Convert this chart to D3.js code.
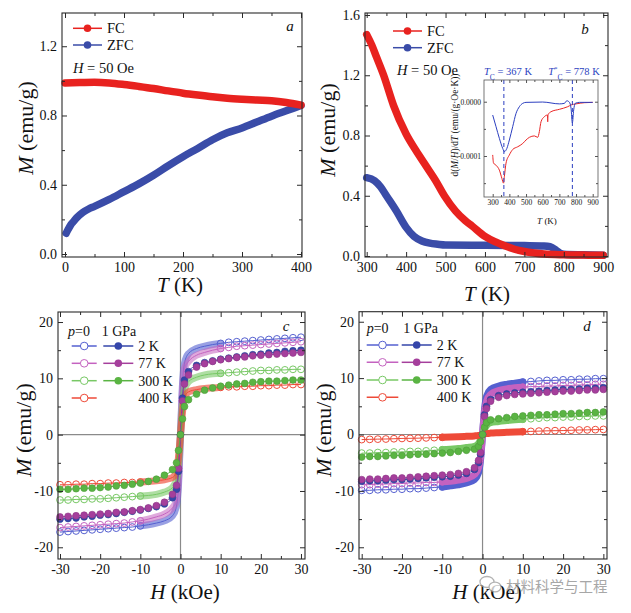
<!DOCTYPE html>
<html><head><meta charset="utf-8">
<script src="https://cdn.jsdelivr.net/npm/d3@7/dist/d3.min.js"></script>
<style>body{margin:0;background:#fff}svg{display:block}</style>
</head><body>
<svg id="fig" width="631" height="613"></svg>
<script>
// ---------------- DATA ----------------
// Panel a (M vs T, H = 50 Oe)
const aT_FC  = [0, 25, 50, 75, 100, 125, 150, 175, 200, 225, 250, 275, 300, 325, 350, 375, 400];
const aM_FC  = [0.988, 0.99, 0.992, 0.988, 0.979, 0.968, 0.956, 0.942, 0.929, 0.918, 0.908, 0.9, 0.894, 0.889, 0.885, 0.875, 0.86];
const aT_ZFC = [2, 5, 10, 15, 20, 30, 40, 50, 75, 100, 125, 150, 175, 200, 225, 250, 275, 300, 325, 350, 375, 400];
const aM_ZFC = [0.12, 0.14, 0.17, 0.19, 0.21, 0.24, 0.26, 0.275, 0.315, 0.36, 0.405, 0.455, 0.51, 0.562, 0.61, 0.66, 0.70, 0.728, 0.762, 0.796, 0.827, 0.858];
// Panel b (high temperature)
const bT_FC  = [300, 313, 325, 343, 368, 400, 425, 450, 475, 497, 525, 550, 567, 600, 625, 650, 675, 700, 725, 750, 800, 850, 900];
const bM_FC  = [1.47, 1.40, 1.32, 1.20, 1.00, 0.81, 0.70, 0.60, 0.50, 0.40, 0.30, 0.235, 0.20, 0.13, 0.095, 0.068, 0.045, 0.03, 0.02, 0.013, 0.008, 0.006, 0.005];
const bT_ZFC = [300, 320, 335, 350, 375, 400, 420, 440, 460, 480, 500, 600, 700, 750, 765, 780, 790, 800, 850, 900];
const bM_ZFC = [0.52, 0.50, 0.46, 0.40, 0.30, 0.19, 0.13, 0.10, 0.085, 0.078, 0.073, 0.071, 0.069, 0.067, 0.062, 0.04, 0.02, 0.012, 0.008, 0.005];
// Panel b inset: d(M/H)/dT
const iT_ZFC = [300, 320, 340, 360, 370, 385, 400, 420, 440, 460, 480, 500, 600, 700, 730, 745, 760, 770, 778, 786, 795, 820, 900];
const iD_ZFC = [-2.45e-5, -4.6e-5, -6.75e-5, -8.6e-5, -9.2e-5, -8.6e-5, -7.05e-5, -4.6e-5, -2.15e-5, -9.2e-6, -3e-6, -1.2e-6, -6e-7, -4e-6, -3e-6, 1.8e-6, -1e-6, -1.2e-5, -3.9e-5, -1.5e-5, -3e-6, -1.2e-6, -1.2e-6];
const iT_FC  = [300, 305, 320, 340, 355, 365, 370, 380, 400, 420, 450, 480, 500, 520, 550, 570, 580, 590, 610, 628, 630, 632, 650, 700, 750, 770, 800, 850, 900];
const iD_FC  = [-9.8e-5, -1.13e-4, -1.17e-4, -1.26e-4, -1.41e-4, -1.5e-4, -1.38e-4, -1.13e-4, -9.8e-5, -8.8e-5, -8.3e-5, -7.7e-5, -7.05e-5, -6.56e-5, -6.3e-5, -6.56e-5, -5.5e-5, -3.68e-5, -2.76e-5, -2.45e-5, -3.7e-5, -2.4e-5, -1.84e-5, -1.4e-5, -9.2e-6, -6e-6, -4e-6, -1.8e-6, -1.2e-6];
const inTc = [367, 778];

// Panels c and d (M vs H)
const hGrid = [-30,-28,-26,-24,-22,-20,-18,-16,-14,-12,-10,-8,-6,-4,-2,-1,-0.5,0,0.5,1,2,4,6,8,10,12,14,16,18,20,22,24,26,28,30];
const c2K_p0   = [-17.3,-17.2,-17.1,-17.0,-16.9,-16.8,-16.7,-16.6,-16.5,-16.4,-16.2,-16.0,-15.7,-15.3,-14.4,-12.7,-9.0,0,9.0,12.7,14.4,15.3,15.7,16.0,16.2,16.4,16.5,16.6,16.7,16.8,16.9,17.0,17.1,17.2,17.3];
const c77K_p0  = [-16.5,-16.4,-16.3,-16.2,-16.1,-16.0,-15.9,-15.8,-15.7,-15.5,-15.3,-15.0,-14.6,-14.1,-13.0,-11.8,-8.0,0,8.0,11.8,13.0,14.1,14.6,15.0,15.3,15.5,15.7,15.8,15.9,16.0,16.1,16.2,16.3,16.4,16.5];
const c300K_p0 = [-11.6,-11.6,-11.5,-11.5,-11.4,-11.4,-11.3,-11.2,-11.1,-11.0,-10.9,-10.8,-10.6,-10.2,-9.4,-8.0,-5.5,0,5.5,8.0,9.4,10.2,10.6,10.8,10.9,11.0,11.1,11.2,11.3,11.4,11.4,11.5,11.5,11.6,11.6];
const c400K_p0 = [-8.9,-8.9,-8.8,-8.8,-8.7,-8.7,-8.6,-8.6,-8.5,-8.5,-8.4,-8.3,-8.2,-8.0,-7.6,-6.7,-4.0,0,4.0,6.7,7.6,8.0,8.2,8.3,8.4,8.5,8.5,8.6,8.6,8.7,8.7,8.8,8.8,8.9,8.9];
const c2K_1G   = [-15.0,-14.9,-14.8,-14.6,-14.5,-14.3,-14.2,-14.0,-13.8,-13.6,-13.4,-13.1,-12.8,-12.3,-11.2,-9.7,-6.5,0,6.5,9.7,11.2,12.3,12.8,13.1,13.4,13.6,13.8,14.0,14.2,14.3,14.5,14.6,14.8,14.9,15.0];
const c77K_1G  = [-14.6,-14.5,-14.4,-14.3,-14.2,-14.1,-14.0,-13.8,-13.7,-13.5,-13.3,-13.0,-12.6,-12.0,-10.6,-9.0,-6.0,0,6.0,9.0,10.6,12.0,12.6,13.0,13.3,13.5,13.7,13.8,14.0,14.1,14.2,14.3,14.4,14.5,14.6];
const c300K_1G = [-9.7,-9.7,-9.6,-9.5,-9.5,-9.4,-9.3,-9.1,-9.0,-8.8,-8.6,-8.3,-7.9,-7.2,-6.2,-5.0,-2.8,0,2.8,5.0,6.2,7.2,7.9,8.3,8.6,8.8,9.0,9.1,9.3,9.4,9.5,9.5,9.6,9.7,9.7];
const d2K_p0   = [-9.9,-9.9,-9.8,-9.8,-9.7,-9.7,-9.6,-9.6,-9.5,-9.4,-9.3,-9.1,-8.9,-8.6,-8.0,-6.8,-4.5,0,4.5,6.8,8.0,8.6,8.9,9.1,9.3,9.4,9.5,9.6,9.6,9.7,9.7,9.8,9.8,9.9,9.9];
const d77K_p0  = [-8.9,-8.9,-8.8,-8.8,-8.7,-8.7,-8.6,-8.6,-8.5,-8.5,-8.4,-8.3,-8.1,-7.8,-7.1,-5.9,-4.0,0,4.0,5.9,7.1,7.8,8.1,8.3,8.4,8.5,8.5,8.6,8.6,8.7,8.7,8.8,8.8,8.9,8.9];
const d300K_p0 = [-3.3,-3.3,-3.2,-3.2,-3.1,-3.1,-3.0,-3.0,-2.9,-2.8,-2.7,-2.6,-2.5,-2.3,-2.1,-1.6,-1.0,0,1.0,1.6,2.1,2.3,2.5,2.6,2.7,2.8,2.9,3.0,3.0,3.1,3.1,3.2,3.2,3.3,3.3];
const d400K_p0 = [-0.9,-0.86,-0.82,-0.8,-0.75,-0.7,-0.68,-0.65,-0.6,-0.55,-0.5,-0.44,-0.38,-0.32,-0.25,-0.18,-0.12,0,0.12,0.18,0.25,0.32,0.38,0.44,0.5,0.55,0.6,0.65,0.68,0.7,0.75,0.8,0.82,0.86,0.9];
const d2K_1G   = [-8.3,-8.2,-8.2,-8.1,-8.0,-8.0,-7.9,-7.8,-7.7,-7.6,-7.5,-7.4,-7.2,-6.9,-6.2,-5.0,-3.5,0,3.5,5.0,6.2,6.9,7.2,7.4,7.5,7.6,7.7,7.8,7.9,8.0,8.0,8.1,8.2,8.2,8.3];
const d77K_1G  = [-8.0,-7.9,-7.9,-7.8,-7.7,-7.7,-7.6,-7.5,-7.4,-7.3,-7.2,-7.1,-6.9,-6.6,-5.9,-4.6,-3.2,0,3.2,4.6,5.9,6.6,6.9,7.1,7.2,7.3,7.4,7.5,7.6,7.7,7.7,7.8,7.9,7.9,8.0];
const d300K_1G = [-4.0,-3.9,-3.9,-3.8,-3.7,-3.7,-3.6,-3.5,-3.5,-3.4,-3.3,-3.2,-3.0,-2.8,-2.6,-2.1,-1.3,0,1.3,2.1,2.6,2.8,3.0,3.2,3.3,3.4,3.5,3.5,3.6,3.7,3.7,3.8,3.9,3.9,4.0];

const legendTemps = ["2 K", "77 K", "300 K", "400 K"];

// ---------------- STYLE ----------------
const FONT = '"Liberation Serif","Times New Roman",Tinos,serif';
const C = {
  red: "#e8221f", blueAB: "#3a4ca8",
  blue: "#3546aa", blueO: "#5560d0",
  mag: "#a53f9c", magO: "#c462c0",
  grn: "#5ab443", grnO: "#78c865",
  redO: "#ee4a38",
  frame: "#2a2a2a", zero: "#8a8a8a", inBlue: "#2c3fc0", inRed: "#ea2525"
};
const svg = d3.select("#fig");

function axes(g, x, y, o) {
  const [xl, xr] = x.range(), [yb, yt] = y.range();
  const none = () => "";
  const mk = (gen, vals, size, fmt, tr, pad) => {
    const a = g.append("g").attr("transform", tr)
      .call(gen.tickValues(vals).tickSize(size).tickSizeOuter(0).tickPadding(pad).tickFormat(fmt || none));
    a.attr("font-family", FONT);
    a.select(".domain").remove();
    a.selectAll("line").attr("stroke", o.color || C.frame).attr("stroke-width", 1);
    a.selectAll("text").attr("font-family", FONT).attr("font-size", o.fs).attr("fill", "#111");
    return a;
  };
  const T = o.T || 5, t = o.t || 3, p = o.pad || 5;
  mk(d3.axisBottom(x), o.xt, -T, o.xf, `translate(0,${yb})`, p);
  mk(d3.axisBottom(x), o.xm, -t, null, `translate(0,${yb})`, p);
  mk(d3.axisTop(x), o.xt, -T, null, `translate(0,${yt})`, p);
  mk(d3.axisTop(x), o.xm, -t, null, `translate(0,${yt})`, p);
  mk(d3.axisLeft(y), o.yt, -T, o.yf, `translate(${xl},0)`, p);
  mk(d3.axisLeft(y), o.ym, -t, null, `translate(${xl},0)`, p);
  mk(d3.axisRight(y), o.yt, -T, null, `translate(${xr},0)`, p);
  mk(d3.axisRight(y), o.ym, -t, null, `translate(${xr},0)`, p);
  g.append("rect").attr("x", xl).attr("y", yt).attr("width", xr - xl).attr("height", yb - yt)
    .attr("fill", "none").attr("stroke", o.color || C.frame).attr("stroke-width", o.sw || 1.1);
}
function range(a, b, s) { const r = []; for (let v = a; v <= b + 1e-9; v += s) r.push(+v.toFixed(6)); return r; }

function txt(g, x, y, parts, o = {}) {
  const t = g.append("text").attr("x", x).attr("y", y).attr("font-family", FONT)
    .attr("font-size", o.fs || 14).attr("fill", o.fill || "#111").attr("text-anchor", o.anchor || "start");
  if (o.rot) t.attr("transform", `rotate(${o.rot},${x},${y})`);
  parts.forEach(p => {
    if (typeof p === "string") t.append("tspan").text(p);
    else {
      const s = t.append("tspan").text(p.t);
      if (p.i) s.attr("font-style", "italic");
      if (p.sub) s.attr("baseline-shift", "sub").attr("font-size", p.sub);
      if (p.sup) s.attr("baseline-shift", "super").attr("font-size", p.sup);
    }
  });
  return t;
}

// ---------------- PANEL a ----------------
{
  const g = svg.append("g");
  const x = d3.scaleLinear().domain([-5.1, 401.7]).range([62, 302]);
  const y = d3.scaleLinear().domain([-0.0173, 1.392]).range([257, 13]);
  const line = d3.line().x(d => x(d[0])).y(d => y(d[1])).curve(d3.curveMonotoneX);
  g.append("path").attr("d", line(aT_ZFC.map((t, i) => [t, aM_ZFC[i]])))
    .attr("fill", "none").attr("stroke", C.blueAB).attr("stroke-width", 7.5).attr("stroke-linecap", "round").attr("stroke-linejoin", "round");
  g.append("path").attr("d", line(aT_FC.map((t, i) => [t, aM_FC[i]])))
    .attr("fill", "none").attr("stroke", C.red).attr("stroke-width", 7.5).attr("stroke-linecap", "round").attr("stroke-linejoin", "round");
  axes(g, x, y, { xt: range(0, 400, 100), xm: range(50, 350, 100), yt: range(0, 1.2, 0.4), ym: [0.2, 0.6, 1.0],
    xf: d => String(d), yf: d => d.toFixed(1), fs: 14 });
  [["FC", C.red, 28.3], ["ZFC", C.blueAB, 45]].forEach(([lab, col, yy]) => {
    g.append("line").attr("x1", 73).attr("x2", 102).attr("y1", yy).attr("y2", yy).attr("stroke", col).attr("stroke-width", 1.5);
    g.append("circle").attr("cx", 87.5).attr("cy", yy).attr("r", 3.8).attr("fill", col);
    txt(g, 107, yy + 5, [lab], { fs: 14.5 });
  });
  txt(g, 73, 73, [{ t: "H", i: 1 }, " = 50 Oe"], { fs: 14.5 });
  txt(g, 290, 31, [{ t: "a", i: 1 }], { fs: 15, anchor: "middle" });
  txt(g, 180, 292, [{ t: "T", i: 1 }, " (K)"], { fs: 21, anchor: "middle" });
  txt(g, 33, 128, [{ t: "M", i: 1 }, " (emu/g)"], { fs: 22, anchor: "middle", rot: -90 });
}

// ---------------- PANEL b ----------------
{
  const g = svg.append("g");
  const x = d3.scaleLinear().domain([295.7, 912.1]).range([365, 608]);
  const y = d3.scaleLinear().domain([-0.0066, 1.6133]).range([257, 13]);
  const line = d3.line().x(d => x(d[0])).y(d => y(d[1])).curve(d3.curveMonotoneX);
  g.append("path").attr("d", line(bT_ZFC.map((t, i) => [t, bM_ZFC[i]])))
    .attr("fill", "none").attr("stroke", C.blueAB).attr("stroke-width", 7.5).attr("stroke-linecap", "round").attr("stroke-linejoin", "round");
  g.append("path").attr("d", line(bT_FC.map((t, i) => [t, bM_FC[i]])))
    .attr("fill", "none").attr("stroke", C.red).attr("stroke-width", 7.5).attr("stroke-linecap", "round").attr("stroke-linejoin", "round");
  axes(g, x, y, { xt: range(300, 900, 100), xm: range(350, 850, 100), yt: range(0, 1.6, 0.4), ym: [0.2, 0.6, 1.0, 1.4],
    xf: d => String(d), yf: d => d.toFixed(1), fs: 14 });
  [["FC", C.red, 31], ["ZFC", C.blueAB, 47.7]].forEach(([lab, col, yy]) => {
    g.append("line").attr("x1", 393).attr("x2", 422).attr("y1", yy).attr("y2", yy).attr("stroke", col).attr("stroke-width", 1.5);
    g.append("circle").attr("cx", 407.5).attr("cy", yy).attr("r", 3.8).attr("fill", col);
    txt(g, 427, yy + 5, [lab], { fs: 14.5 });
  });
  txt(g, 397, 75, [{ t: "H", i: 1 }, " = 50 Oe"], { fs: 14.5 });
  txt(g, 585, 34, [{ t: "b", i: 1 }], { fs: 15, anchor: "middle" });
  txt(g, 487, 301, [{ t: "T", i: 1 }, " (K)"], { fs: 21, anchor: "middle" });
  txt(g, 335, 130, [{ t: "M", i: 1 }, " (emu/g)"], { fs: 22, anchor: "middle", rot: -90 });

  // inset
  const ix = d3.scaleLinear().domain([247.8, 931.8]).range([484, 598]);
  const iy = d3.scaleLinear().domain([-1.755e-4, 4.0e-5]).range([197, 80]);
  g.append("rect").attr("x", 484).attr("y", 80).attr("width", 114).attr("height", 117).attr("fill", "#fff");
  const il = d3.line().x(d => ix(d[0])).y(d => iy(d[1])).curve(d3.curveMonotoneX);
  g.append("path").attr("d", il(iT_FC.map((t, i) => [t, iD_FC[i]]))).attr("fill", "none").attr("stroke", C.inRed).attr("stroke-width", 1);
  g.append("path").attr("d", il(iT_ZFC.map((t, i) => [t, iD_ZFC[i]]))).attr("fill", "none").attr("stroke", C.inBlue).attr("stroke-width", 1);
  inTc.forEach(tc => g.append("line").attr("x1", ix(tc)).attr("x2", ix(tc)).attr("y1", 80).attr("y2", 197)
    .attr("stroke", C.inBlue).attr("stroke-width", 1).attr("stroke-dasharray", "4,3"));
  axes(g, ix, iy, { xt: range(300, 900, 100), xm: range(350, 850, 100), yt: [0, -1e-4], ym: [-1.5e-4, -5e-5],
    xf: d => String(d), yf: d => d.toFixed(4), fs: 7.5, T: 3, t: 2, pad: 3, color: "#555", sw: 0.8 });
  txt(g, 508, 75, [{ t: "T", i: 1 }, { t: "C", sub: 7.5 }, " = 367 K"], { fs: 10.5, anchor: "middle", fill: C.inBlue });
  txt(g, 574, 75, [{ t: "T", i: 1 }, { t: "*", sup: 7 }, { t: "C", sub: 7.5 }, " = 778 K"], { fs: 10.5, anchor: "middle", fill: C.inBlue });
  txt(g, 547, 224, [{ t: "T", i: 1 }, " (K)"], { fs: 9, anchor: "middle" });
  txt(g, 458, 125, ["d(", { t: "M", i: 1 }, "/", { t: "H", i: 1 }, ")/d", { t: "T", i: 1 }, " (emu/(g·Oe·K))"], { fs: 9.4, anchor: "middle", rot: -90 });
}

// ---------------- PANELS c, d ----------------
function hystPanel(frame, xdom, series, legend, letter, labels) {
  const g = svg.append("g");
  const x = d3.scaleLinear().domain(xdom).range([frame.x0, frame.x1]);
  const y = d3.scaleLinear().domain([-22.08, 21.78]).range([frame.y1, frame.y0]);
  g.append("line").attr("x1", frame.x0).attr("x2", frame.x1).attr("y1", y(0)).attr("y2", y(0)).attr("stroke", C.zero).attr("stroke-width", 1.2);
  g.append("line").attr("x1", x(0)).attr("x2", x(0)).attr("y1", frame.y0).attr("y2", frame.y1).attr("stroke", C.zero).attr("stroke-width", 1.2);
  const line = d3.line().x(d => x(d[0])).y(d => y(d[1])).curve(d3.curveMonotoneX);
  const R = 3.4;
  series.forEach(s => {
    const pts = hGrid.map((h, i) => [h, s.v[i]]);
    g.append("path").attr("d", line(pts)).attr("fill", "none").attr("stroke", s.col).attr("stroke-width", 1);
    if (s.open) {
      const inner = pts.filter(p => Math.abs(p[0]) <= 10);
      g.append("path").attr("d", line(inner)).attr("fill", "none").attr("stroke", s.col)
        .attr("stroke-width", 7).attr("stroke-opacity", s.band || 0.85).attr("stroke-linecap", "round");
      g.selectAll(null).data(pts.filter(p => Math.abs(p[0]) >= 10)).join("circle")
        .attr("cx", d => x(d[0])).attr("cy", d => y(d[1])).attr("r", R)
        .attr("fill", "none").attr("stroke", s.col).attr("stroke-width", 1);
    }
  });
  series.filter(s => !s.open).forEach(s => {
    const pts = hGrid.map((h, i) => [h, s.v[i]]);
    g.selectAll(null).data(pts).join("circle")
      .attr("cx", d => x(d[0])).attr("cy", d => y(d[1])).attr("r", R)
      .attr("fill", s.col).attr("stroke", d3.color(s.col).darker(0.4)).attr("stroke-width", 0.6);
  });
  axes(g, x, y, { xt: range(-30, 30, 10), xm: range(-25, 25, 10), yt: range(-20, 20, 10), ym: range(-15, 15, 10),
    xf: d => String(d), yf: d => String(d), fs: 14 });
  const L = legend;
  txt(g, L.px, L.py, [{ t: "p", i: 1 }, "=0"], { fs: 14 });
  txt(g, L.gx, L.py, ["1 GPa"], { fs: 14 });
  L.rows.forEach((r, i) => {
    const yy = L.ys[i];
    g.append("line").attr("x1", L.o[0]).attr("x2", L.o[1]).attr("y1", yy).attr("y2", yy).attr("stroke", r.oc).attr("stroke-width", 1.5);
    g.append("circle").attr("cx", (L.o[0] + L.o[1]) / 2).attr("cy", yy).attr("r", 3.8).attr("fill", "#fff").attr("stroke", r.oc).attr("stroke-width", 1);
    if (r.fc) {
      g.append("line").attr("x1", L.f[0]).attr("x2", L.f[1]).attr("y1", yy).attr("y2", yy).attr("stroke", r.fc).attr("stroke-width", 1.5);
      g.append("circle").attr("cx", (L.f[0] + L.f[1]) / 2).attr("cy", yy).attr("r", 3.8).attr("fill", r.fc);
    }
    txt(g, L.tx, yy + 5, [legendTemps[i]], { fs: 14 });
  });
  txt(g, letter.x, letter.y, [{ t: letter.t, i: 1 }], { fs: 15, anchor: "middle" });
  txt(g, labels.hx, 599, [{ t: "H", i: 1 }, " (kOe)"], { fs: 21, anchor: "middle" });
  txt(g, labels.mx, 430, [{ t: "M", i: 1 }, " (emu/g)"], { fs: 22, anchor: "middle", rot: -90 });
}

hystPanel({ x0: 58, x1: 305, y0: 312, y1: 559 }, [-30.5, 31.0], [
  { v: c2K_p0, col: C.blueO, open: 1, band: 0.6 },
  { v: c77K_p0, col: C.magO, open: 1, band: 0.55 },
  { v: c300K_p0, col: C.grnO, open: 1, band: 0.6 },
  { v: c400K_p0, col: C.redO, open: 1, band: 0.65 },
  { v: c2K_1G, col: C.blue },
  { v: c77K_1G, col: C.mag },
  { v: c300K_1G, col: C.grn }
], { px: 68, gx: 101.7, py: 335.5, o: [71.7, 96.7], f: [103.3, 133.3], tx: 138.3, ys: [346, 363.3, 380.7, 398],
  rows: [{ oc: C.blueO, fc: C.blue }, { oc: C.magO, fc: C.mag }, { oc: C.grnO, fc: C.grn }, { oc: C.redO }] },
  { t: "c", x: 286, y: 331 }, { hx: 185, mx: 31 });

hystPanel({ x0: 359, x1: 607, y0: 311.7, y1: 559 }, [-30.67, 30.9], [
  { v: d2K_p0, col: C.blueO, open: 1, band: 1 },
  { v: d77K_p0, col: C.magO, open: 1, band: 1 },
  { v: d300K_p0, col: C.grnO, open: 1, band: 1 },
  { v: d400K_p0, col: C.redO, open: 1, band: 1 },
  { v: d2K_1G, col: C.blue },
  { v: d77K_1G, col: C.mag },
  { v: d300K_1G, col: C.grn }
], { px: 366.7, gx: 403.3, py: 333, o: [366.7, 398.3], f: [401.7, 431.7], tx: 436.7, ys: [345, 362.3, 380, 397.3],
  rows: [{ oc: C.blueO, fc: C.blue }, { oc: C.magO, fc: C.mag }, { oc: C.grnO, fc: C.grn }, { oc: C.redO }] },
  { t: "d", x: 587, y: 331 }, { hx: 487, mx: 331 });

// watermark
{
  const g = svg.append("g").attr("opacity", 0.75);
  g.append("ellipse").attr("cx", 487).attr("cy", 582).attr("rx", 7).attr("ry", 5.5).attr("fill", "#fff").attr("stroke", "#9a9a9a").attr("stroke-width", 1.3);
  g.append("ellipse").attr("cx", 495).attr("cy", 587).attr("rx", 6).attr("ry", 4.8).attr("fill", "#fff").attr("stroke", "#9a9a9a").attr("stroke-width", 1.3);
  g.append("text").attr("x", 506).attr("y", 592).attr("font-family", '"Noto Sans CJK SC",sans-serif')
    .attr("font-size", 14.5).attr("fill", "#8a8a8a").text("材料科学与工程");
}
</script>
</body></html>
